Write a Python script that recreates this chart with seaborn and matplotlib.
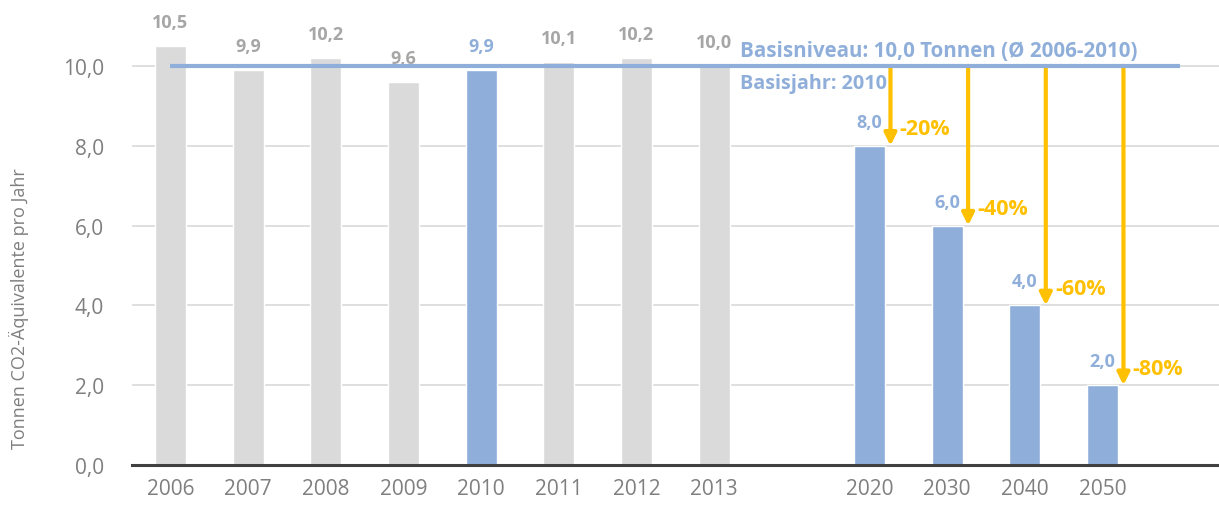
import pandas as pd
import matplotlib.pyplot as plt
import seaborn as sns
from matplotlib.ticker import FuncFormatter

# data
years_hist = ["2006", "2007", "2008", "2009", "2010", "2011", "2012", "2013"]
values_hist = [10.5, 9.9, 10.2, 9.6, 9.9, 10.1, 10.2, 10.0]
years_goal = ["2020", "2030", "2040", "2050"]
values_goal = [8.0, 6.0, 4.0, 2.0]
reductions = ["-20%", "-40%", "-60%", "-80%"]
basis_value = 10.0
basis_year = "2010"

GREY = "#DADADA"
GREY_TXT = "#A6A6A6"
BLUE = "#8FAFDA"
GOLD = "#FFC000"
AXIS_TXT = "#7F7F7F"

order = years_hist + [" "] + years_goal + ["  "]

df = pd.DataFrame({
    "jahr": years_hist + years_goal,
    "wert": values_hist + values_goal,
})
df["art"] = ["blau" if (j == basis_year or j in years_goal) else "grau" for j in df["jahr"]]

sns.set_style("white")
plt.rcParams["font.family"] = ["Open Sans", "DejaVu Sans"]

fig, ax = plt.subplots(figsize=(12.19, 5.06), dpi=100)
fig.subplots_adjust(left=0.108, right=1.0, bottom=0.079, top=0.994)

sns.barplot(data=df, x="jahr", y="wert", hue="art", order=order,
            palette={"grau": GREY, "blau": BLUE}, dodge=False, saturation=1,
            width=0.4, legend=False, ax=ax, zorder=2)

ax.set_ylim(0, 11.6)
ax.set_xlim(-0.5, len(order) - 0.5)
ax.set_yticks([0, 2, 4, 6, 8, 10])
ax.yaxis.set_major_formatter(FuncFormatter(lambda v, p: f"{v:.1f}".replace(".", ",")))
ax.grid(axis="y", color="#D9D9D9", lw=1.2, zorder=0)
ax.set_axisbelow(True)
for s in ["top", "right", "left"]:
    ax.spines[s].set_visible(False)
ax.spines["bottom"].set_color("#404040")
ax.spines["bottom"].set_linewidth(2.2)
ax.spines["bottom"].set_zorder(5)
ax.tick_params(axis="both", length=0, labelsize=15, colors=AXIS_TXT, pad=9)
ax.tick_params(axis="y", pad=20)
ax.set_xlabel("")
ax.set_ylabel("Tonnen CO2-Äquivalente pro Jahr", fontsize=13, color=AXIS_TXT)
ax.yaxis.set_label_coords(-0.094, 0.34)

# value labels
for _, r in df.iterrows():
    i = order.index(r["jahr"])
    col = BLUE if r["art"] == "blau" else GREY_TXT
    ax.text(i, r["wert"] + 0.6, f"{r['wert']:.1f}".replace(".", ","),
            ha="center", va="center", fontsize=13, fontweight="bold", color=col)

# basis line
ax.plot([0, len(order) - 1], [basis_value, basis_value], color=BLUE, lw=3, zorder=4,
        solid_capstyle="butt")
ax.text(7.33, basis_value + 0.38, "Basisniveau: 10,0 Tonnen (Ø 2006-2010)",
        ha="left", va="center", fontsize=14.8, fontweight="bold", color=BLUE)
ax.text(7.33, basis_value - 0.43, "Basisjahr: 2010",
        ha="left", va="center", fontsize=14.2, fontweight="bold", color=BLUE)

# reduction arrows
for y, v, lab in zip(years_goal, values_goal, reductions):
    i = order.index(y)
    ax.annotate("", xy=(i + 0.27, v), xytext=(i + 0.27, basis_value),
                arrowprops=dict(arrowstyle="-|>", color=GOLD, lw=3,
                                mutation_scale=18, shrinkA=0, shrinkB=0),
                zorder=3)
    ax.text(i + 0.39, v + 0.42, lab, ha="left", va="center", fontsize=15.5,
            fontweight="bold", color=GOLD, zorder=6)

plt.savefig("out.png", dpi=100)
plt.close()
